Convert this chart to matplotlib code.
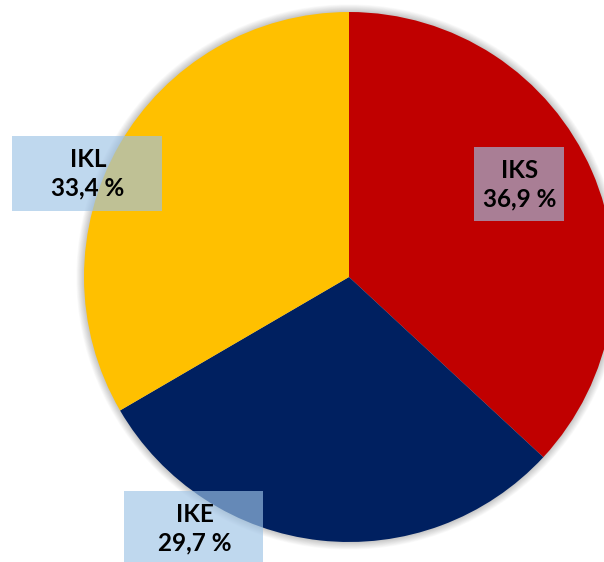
#!/usr/bin/env python3
"""Pie chart of the IKS / IKE / IKL split with boxed data labels."""

import matplotlib

matplotlib.use("Agg")
import matplotlib.pyplot as plt
from matplotlib.patches import Circle, Rectangle

# Shares in percent, drawn clockwise from 12 o'clock
categories = ["IKS", "IKE", "IKL"]
shares = [36.9, 29.7, 33.4]
colors = ["#C00000", "#002060", "#FFC000"]

# Label boxes in pixel coords: (x0, y_top, width, height)
label_boxes = {
	"IKS": (474, 147, 90, 74),
	"IKE": (124, 491, 139, 75),
	"IKL": (12, 136, 150, 75),
}

W, H = 604, 562
CX, CY, R = 349, 277, 265

fig = plt.figure(figsize=(W / 100, H / 100), dpi=100)
ax = fig.add_axes([0, 0, 1, 1])

center = (CX, H - CY)

# Soft outer shadow round the pie
for i in range(12):
	ax.add_patch(Circle(center, R + 0.7 * i, color="black", alpha=0.018, lw=0, zorder=1))

ax.pie(
	shares,
	colors=colors,
	startangle=90,
	counterclock=False,
	center=center,
	radius=R,
	frame=True,
	wedgeprops=dict(linewidth=0, zorder=2),
)
ax.set_xlim(0, W)
ax.set_ylim(0, H)
ax.set_aspect("equal")
ax.axis("off")

for name, value in zip(categories, shares):
	x0, ytop, bw, bh = label_boxes[name]
	ax.add_patch(
		Rectangle((x0, H - ytop - bh), bw, bh, facecolor="#9DC3E6", alpha=0.65, lw=0, zorder=5)
	)
	xc = x0 + bw / 2 + 1
	yc = H - ytop - 38
	txt = f"{name}\n{value:.1f} %".replace(".", ",")
	ax.text(
		xc, yc, txt, ha="center", va="center", fontsize=17.5, fontweight="bold",
		family="Lato", color="black", linespacing=1.28, zorder=6,
	)

fig.savefig("out.png", dpi=100)
